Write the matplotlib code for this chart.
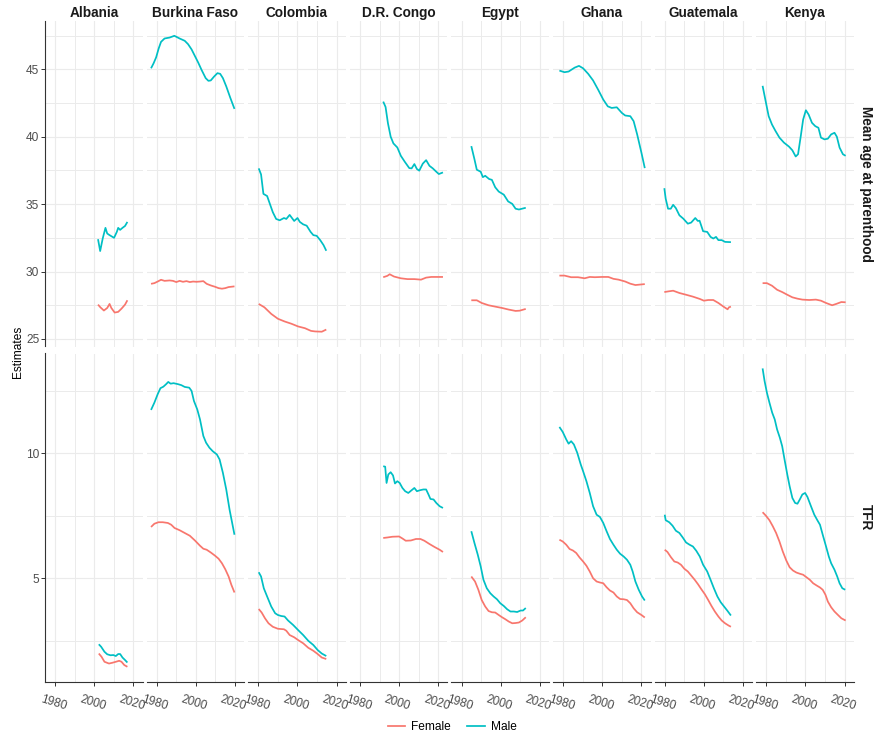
"""Faceted estimates: mean age at parenthood and TFR by country and sex."""

import matplotlib
matplotlib.use("Agg")
import matplotlib.pyplot as plt
from matplotlib.lines import Line2D
from matplotlib.ticker import FixedLocator

plt.rcParams["font.family"] = ["Liberation Sans", "DejaVu Sans"]

countries = ["Albania", "Burkina Faso", "Colombia", "D.R. Congo",
             "Egypt", "Ghana", "Guatemala", "Kenya"]
measures = ["Mean age at parenthood", "TFR"]
sexes = ["Female", "Male"]
colours = {"Female": "#F8766D", "Male": "#00BFC4"}

# ---- mean age at parenthood -------------------------------------------
albania_age_f_x = [2001.9, 2003.1, 2004.9, 2006.6, 2007.8, 2008.7, 2010.4, 2012.2, 2013.9, 2015.7, 2016.9]
albania_age_f_y = [27.55, 27.35, 27.11, 27.30, 27.60, 27.30, 26.96, 27.01, 27.25, 27.55, 27.87]
albania_age_m_x = [2001.9, 2003.0, 2004.3, 2005.7, 2006.6, 2007.8, 2010.1, 2011.5, 2012.2, 2013.2, 2014.4, 2015.7, 2016.9]
albania_age_m_y = [32.40, 31.52, 32.45, 33.24, 32.82, 32.70, 32.50, 32.94, 33.24, 33.09, 33.24, 33.38, 33.68]

burkina_age_f_x = [1977.1, 1978.8, 1980.5, 1982.2, 1984.0, 1986.6, 1988.3, 1990.0, 1991.7, 1993.4, 1995.2, 1996.9,
                   1998.6, 2000.3, 2002.1, 2003.8, 2005.5, 2007.6, 2009.8, 2011.6, 2013.3, 2015.0, 2016.7, 2019.7]
burkina_age_f_y = [29.09, 29.14, 29.26, 29.39, 29.31, 29.34, 29.31, 29.22, 29.31, 29.24, 29.29, 29.22,
                   29.26, 29.24, 29.26, 29.29, 29.09, 28.97, 28.87, 28.77, 28.73, 28.77, 28.85, 28.90]
burkina_age_m_x = [1977.1, 1978.4, 1979.7, 1981.0, 1982.2, 1984.0, 1986.6, 1989.0, 1991.7, 1994.3, 1996.0, 1997.8,
                   1999.5, 2001.2, 2002.9, 2005.0, 2006.4, 2007.6, 2009.3, 2011.0, 2012.4, 2013.8, 2015.5, 2017.6, 2019.7]
burkina_age_m_y = [45.07, 45.44, 45.88, 46.54, 47.03, 47.28, 47.35, 47.48, 47.28, 47.11, 46.86, 46.47,
                   45.98, 45.49, 44.95, 44.34, 44.14, 44.17, 44.46, 44.71, 44.66, 44.34, 43.73, 42.87, 42.06]

colombia_age_f_x = [1980.2, 1983.1, 1986.6, 1990.0, 1993.4, 1996.9, 2000.3, 2003.8, 2006.9, 2009.0, 2012.4, 2014.7]
colombia_age_f_y = [27.60, 27.35, 26.86, 26.50, 26.30, 26.13, 25.93, 25.80, 25.60, 25.56, 25.54, 25.70]
colombia_age_m_x = [1980.2, 1981.4, 1982.6, 1984.5, 1985.7, 1987.4, 1989.1, 1990.9, 1993.1, 1994.3, 1996.0,
                    1998.3, 2000.0, 2001.2, 2002.9, 2004.7, 2006.7, 2008.1, 2009.8, 2011.6, 2013.3, 2014.7]
colombia_age_m_y = [37.65, 37.20, 35.76, 35.60, 35.10, 34.40, 33.90, 33.80, 33.97, 33.90, 34.20,
                    33.75, 33.97, 33.68, 33.50, 33.40, 32.94, 32.70, 32.65, 32.33, 31.96, 31.54]

congo_age_f_x = [1991.9, 1994.0, 1995.2, 1997.4, 2000.9, 2004.3, 2007.8, 2011.2, 2013.8, 2016.4, 2022.4]
congo_age_f_y = [29.58, 29.68, 29.80, 29.63, 29.50, 29.44, 29.44, 29.40, 29.55, 29.60, 29.60]
congo_age_m_x = [1991.9, 1993.1, 1994.3, 1995.7, 1997.1, 1999.1, 2000.9, 2002.9, 2005.2, 2006.4, 2007.8,
                 2009.1, 2010.3, 2012.1, 2013.8, 2015.5, 2017.2, 2019.0, 2020.3, 2022.4]
congo_age_m_y = [42.60, 42.20, 41.00, 40.00, 39.50, 39.20, 38.58, 38.14, 37.67, 37.65, 37.97,
                 37.60, 37.48, 38.00, 38.26, 37.84, 37.65, 37.40, 37.23, 37.35]

egypt_age_f_x = [1985.0, 1987.8, 1990.3, 1993.8, 1997.2, 2000.7, 2004.1, 2007.6, 2009.7, 2012.8]
egypt_age_f_y = [27.87, 27.87, 27.67, 27.50, 27.40, 27.30, 27.18, 27.08, 27.10, 27.23]
egypt_age_m_x = [1985.0, 1986.6, 1987.8, 1989.8, 1990.9, 1992.1, 1994.1, 1995.5, 1997.2, 1999.0, 2001.6,
                 2003.8, 2005.9, 2007.6, 2009.3, 2012.8]
egypt_age_m_y = [39.30, 38.33, 37.55, 37.40, 37.00, 37.10, 36.86, 36.80, 36.25, 35.93, 35.70,
                 35.20, 35.02, 34.66, 34.60, 34.73]

ghana_age_f_x = [1978.1, 1980.7, 1984.1, 1987.6, 1991.0, 1993.6, 1996.2, 1999.7, 2003.1, 2005.7, 2008.3,
                 2011.7, 2014.3, 2016.9, 2021.7]
ghana_age_f_y = [29.70, 29.70, 29.58, 29.58, 29.50, 29.60, 29.58, 29.60, 29.60, 29.46, 29.40,
                 29.26, 29.10, 29.00, 29.07]
ghana_age_m_x = [1978.1, 1980.7, 1982.8, 1985.9, 1988.1, 1990.2, 1992.8, 1995.3, 1997.9, 2000.5, 2002.8,
                 2004.8, 2007.4, 2010.0, 2011.7, 2014.3, 2016.0, 2017.8, 2020.0, 2021.7]
ghana_age_m_y = [44.90, 44.78, 44.83, 45.12, 45.25, 45.07, 44.66, 44.17, 43.48, 42.75, 42.25,
                 42.13, 42.18, 41.76, 41.57, 41.52, 41.15, 40.17, 38.80, 37.67]

guatemala_age_f_x = [1979.8, 1981.9, 1984.3, 1987.5, 1990.9, 1994.4, 1997.9, 2000.0, 2002.2, 2004.8, 2007.4,
                     2010.0, 2012.1, 2012.8, 2013.8]
guatemala_age_f_y = [28.48, 28.53, 28.58, 28.41, 28.28, 28.14, 27.97, 27.84, 27.89, 27.89, 27.67,
                     27.40, 27.20, 27.35, 27.40]
guatemala_age_m_x = [1979.8, 1980.5, 1981.7, 1983.1, 1984.3, 1985.7, 1987.5, 1989.5, 1991.8, 1993.5, 1995.6,
                     1996.9, 1997.8, 1999.6, 2001.7, 2003.4, 2004.8, 2006.2, 2007.4, 2009.1, 2010.8, 2013.8]
guatemala_age_m_y = [36.18, 35.40, 34.66, 34.66, 34.95, 34.70, 34.17, 33.92, 33.55, 33.63, 33.97,
                     33.75, 33.77, 32.99, 32.94, 32.57, 32.45, 32.57, 32.33, 32.33, 32.20, 32.18]

kenya_age_f_x = [1978.1, 1980.3, 1982.9, 1985.5, 1988.1, 1990.7, 1993.3, 1995.9, 1998.4, 2001.9, 2005.3,
                 2007.9, 2010.5, 2013.6, 2015.7, 2018.3, 2020.5]
kenya_age_f_y = [29.14, 29.14, 28.95, 28.65, 28.48, 28.28, 28.09, 27.99, 27.92, 27.89, 27.92,
                 27.84, 27.67, 27.50, 27.60, 27.74, 27.72]
kenya_age_m_x = [1978.1, 1979.5, 1981.2, 1982.9, 1984.7, 1986.7, 1989.0, 1991.6, 1993.3, 1995.0, 1996.2,
                 1997.6, 1998.8, 2000.2, 2001.6, 2003.3, 2005.0, 2006.6, 2007.9, 2009.7, 2011.4, 2013.1,
                 2014.8, 2016.0, 2017.4, 2019.1, 2020.5]
kenya_age_m_y = [43.77, 42.75, 41.52, 40.90, 40.42, 39.93, 39.56, 39.26, 38.99, 38.53, 38.70,
                 40.05, 41.27, 41.96, 41.64, 41.03, 40.78, 40.66, 39.93, 39.80, 39.85, 40.17,
                 40.29, 40.00, 39.19, 38.70, 38.58]

# ---- total fertility rate ----------------------------------------------
albania_tfr_f_x = [2002.3, 2003.7, 2005.2, 2007.5, 2009.2, 2011.0, 2012.7, 2013.9, 2015.3, 2016.9]
albania_tfr_f_y = [2.00, 1.87, 1.67, 1.60, 1.63, 1.67, 1.71, 1.67, 1.54, 1.47]
albania_tfr_m_x = [2002.3, 2003.5, 2005.2, 2006.6, 2008.3, 2009.7, 2011.0, 2012.2, 2013.2, 2014.4, 2015.7, 2016.9]
albania_tfr_m_y = [2.37, 2.27, 2.07, 1.97, 1.93, 1.94, 1.90, 1.98, 1.98, 1.84, 1.74, 1.64]

burkina_tfr_f_x = [1977.1, 1978.8, 1980.9, 1983.1, 1985.7, 1987.4, 1989.1, 1991.7, 1994.3, 1996.9, 1999.5,
                   2002.1, 2003.8, 2005.5, 2007.6, 2009.8, 2011.6, 2013.3, 2015.0, 2016.7, 2018.1, 2019.7]
burkina_tfr_f_y = [7.06, 7.19, 7.25, 7.25, 7.22, 7.15, 7.02, 6.93, 6.82, 6.71, 6.52,
                   6.31, 6.19, 6.15, 6.04, 5.91, 5.79, 5.61, 5.37, 5.08, 4.75, 4.44]
burkina_tfr_m_x = [1977.1, 1978.8, 1980.5, 1981.9, 1983.4, 1984.8, 1985.9, 1987.1, 1988.6, 1990.9, 1992.6,
                   1994.3, 1996.6, 1997.8, 1999.0, 2000.7, 2002.1, 2003.8, 2005.2, 2006.9, 2008.6, 2010.7,
                   2012.1, 2013.8, 2015.5, 2017.2, 2019.7]
burkina_tfr_m_y = [11.74, 12.03, 12.37, 12.61, 12.67, 12.77, 12.86, 12.79, 12.81, 12.77, 12.73,
                   12.66, 12.63, 12.50, 12.10, 11.76, 11.36, 10.70, 10.43, 10.23, 10.09, 9.96,
                   9.76, 9.22, 8.56, 7.75, 6.75]

colombia_tfr_f_x = [1980.2, 1981.7, 1983.4, 1985.2, 1987.4, 1990.0, 1993.1, 1994.3, 1996.0, 1998.3, 2000.3,
                    2002.9, 2005.5, 2008.1, 2010.3, 2012.4, 2014.7]
colombia_tfr_f_y = [3.78, 3.64, 3.41, 3.21, 3.07, 2.99, 2.97, 2.91, 2.74, 2.65, 2.54,
                    2.41, 2.23, 2.11, 1.98, 1.84, 1.78]
colombia_tfr_m_x = [1980.2, 1981.4, 1982.8, 1984.5, 1986.6, 1988.6, 1990.0, 1991.7, 1993.4, 1995.2, 1997.8,
                    2000.3, 2002.9, 2005.5, 2008.1, 2010.3, 2012.4, 2014.7]
colombia_tfr_m_y = [5.25, 5.08, 4.61, 4.28, 3.88, 3.61, 3.54, 3.50, 3.48, 3.32, 3.14,
                    2.94, 2.74, 2.51, 2.34, 2.14, 2.00, 1.90]

congo_tfr_f_x = [1991.9, 1994.0, 1996.6, 2000.0, 2001.7, 2003.4, 2006.0, 2008.6, 2010.9, 2012.9, 2015.5,
                 2018.1, 2020.7, 2022.4]
congo_tfr_f_y = [6.62, 6.64, 6.67, 6.68, 6.60, 6.51, 6.52, 6.58, 6.58, 6.51, 6.38,
                 6.26, 6.15, 6.06]
congo_tfr_m_x = [1991.9, 1992.9, 1993.6, 1994.5, 1995.7, 1996.9, 1997.9, 1999.1, 2000.3, 2001.7, 2003.1,
                 2004.7, 2006.4, 2007.8, 2009.1, 2010.7, 2012.4, 2013.8, 2015.0, 2016.0, 2017.6, 2019.0,
                 2020.7, 2022.4]
congo_tfr_m_y = [9.49, 9.47, 8.82, 9.16, 9.25, 9.12, 8.80, 8.89, 8.82, 8.62, 8.49,
                 8.42, 8.53, 8.62, 8.49, 8.53, 8.56, 8.56, 8.36, 8.18, 8.16, 8.02,
                 7.89, 7.82]

egypt_tfr_f_x = [1985.0, 1986.9, 1988.6, 1990.3, 1992.1, 1993.8, 1995.5, 1997.2, 1999.0, 2000.7, 2002.4,
                 2004.1, 2005.9, 2007.6, 2009.3, 2011.0, 2012.8]
egypt_tfr_f_y = [5.08, 4.88, 4.55, 4.14, 3.88, 3.70, 3.65, 3.64, 3.54, 3.45, 3.37,
                 3.28, 3.21, 3.22, 3.24, 3.32, 3.45]
egypt_tfr_m_x = [1985.0, 1986.6, 1988.3, 1989.8, 1991.2, 1992.9, 1994.7, 1996.4, 1998.1, 1999.8, 2001.6,
                 2003.3, 2005.0, 2006.7, 2008.4, 2010.2, 2011.4, 2012.8]
egypt_tfr_m_y = [6.89, 6.42, 5.95, 5.48, 4.95, 4.61, 4.41, 4.28, 4.17, 4.01, 3.90,
                 3.77, 3.68, 3.68, 3.66, 3.72, 3.72, 3.82]

ghana_tfr_f_x = [1978.1, 1979.8, 1981.6, 1983.3, 1985.0, 1986.7, 1988.4, 1990.2, 1991.9, 1993.6, 1995.3,
                 1997.1, 1998.8, 2000.5, 2002.2, 2003.9, 2005.7, 2007.4, 2009.1, 2010.9, 2012.6,
                 2014.3, 2016.0, 2017.8, 2020.0, 2021.7]
ghana_tfr_f_y = [6.55, 6.48, 6.35, 6.18, 6.12, 6.02, 5.84, 5.68, 5.51, 5.28, 5.01,
                 4.88, 4.84, 4.81, 4.65, 4.52, 4.44, 4.28, 4.18, 4.17, 4.14,
                 4.01, 3.81, 3.65, 3.54, 3.44]
ghana_tfr_m_x = [1978.1, 1979.8, 1981.6, 1982.8, 1984.1, 1985.5, 1987.2, 1989.0, 1990.2, 1991.9, 1993.6,
                 1995.3, 1997.1, 1998.8, 2000.5, 2002.2, 2003.9, 2005.7, 2007.4, 2009.1, 2010.9,
                 2012.6, 2014.3, 2015.5, 2016.9, 2018.6, 2020.3, 2021.7]
ghana_tfr_m_y = [11.06, 10.86, 10.56, 10.39, 10.49, 10.36, 10.03, 9.56, 9.29, 8.89, 8.42,
                 7.89, 7.55, 7.46, 7.22, 6.89, 6.58, 6.35, 6.15, 5.99, 5.88,
                 5.75, 5.55, 5.28, 4.88, 4.55, 4.28, 4.12]

guatemala_tfr_f_x = [1980.0, 1981.4, 1983.1, 1984.9, 1986.6, 1988.3, 1990.0, 1991.8, 1993.5, 1995.3, 1997.0,
                     1998.7, 2000.5, 2002.2, 2003.9, 2005.6, 2007.4, 2009.1, 2010.8, 2012.6, 2013.8]
guatemala_tfr_f_y = [6.15, 6.06, 5.86, 5.68, 5.64, 5.55, 5.39, 5.28, 5.12, 4.95, 4.77,
                     4.57, 4.37, 4.14, 3.90, 3.68, 3.48, 3.32, 3.21, 3.12, 3.07]
guatemala_tfr_m_x = [1980.0, 1980.5, 1982.3, 1984.0, 1985.7, 1987.5, 1989.2, 1990.9, 1992.7, 1994.4, 1996.1,
                     1997.9, 1999.6, 2001.7, 2003.4, 2005.1, 2006.9, 2008.6, 2010.3, 2012.1, 2013.8]
guatemala_tfr_m_y = [7.55, 7.33, 7.25, 7.11, 6.91, 6.82, 6.64, 6.44, 6.35, 6.28, 6.11,
                     5.88, 5.55, 5.28, 4.95, 4.61, 4.28, 4.05, 3.88, 3.70, 3.52]

kenya_tfr_f_x = [1978.1, 1979.8, 1981.6, 1983.3, 1985.0, 1986.7, 1988.4, 1990.2, 1991.9, 1993.6, 1995.3,
                 1997.1, 1998.8, 2000.5, 2002.2, 2003.9, 2005.7, 2007.4, 2008.8, 2010.2, 2011.4,
                 2013.1, 2014.8, 2016.6, 2018.3, 2020.5]
kenya_tfr_f_y = [7.65, 7.51, 7.33, 7.09, 6.82, 6.48, 6.08, 5.72, 5.45, 5.32, 5.24,
                 5.19, 5.15, 5.05, 4.95, 4.81, 4.72, 4.64, 4.55, 4.35, 4.08,
                 3.85, 3.68, 3.54, 3.41, 3.32]
kenya_tfr_m_x = [1978.1, 1979.1, 1980.3, 1981.6, 1983.0, 1984.3, 1985.5, 1986.9, 1988.1, 1989.3, 1990.7,
                 1991.9, 1993.3, 1994.7, 1995.9, 1997.1, 1998.4, 1999.8, 2001.0, 2002.8, 2004.5,
                 2006.2, 2007.4, 2008.8, 2010.5, 2011.9, 2013.1, 2014.8, 2016.2, 2017.4, 2018.8, 2020.3]
kenya_tfr_m_y = [13.40, 12.90, 12.43, 12.03, 11.63, 11.36, 10.96, 10.63, 10.29, 9.76, 9.16,
                 8.69, 8.22, 8.02, 7.99, 8.16, 8.36, 8.42, 8.26, 7.89, 7.55,
                 7.31, 7.15, 6.75, 6.28, 5.88, 5.61, 5.35, 5.08, 4.81, 4.61, 4.55]

# lookup table built from the lists above: (country, measure) -> {sex: (x, y)}
_prefix = ["albania", "burkina", "colombia", "congo", "egypt", "ghana", "guatemala", "kenya"]
_g = globals()
series = {}
for country, p in zip(countries, _prefix):
    for measure, m in zip(measures, ["age", "tfr"]):
        series[(country, measure)] = {
            "Female": (_g[f"{p}_{m}_f_x"], _g[f"{p}_{m}_f_y"]),
            "Male": (_g[f"{p}_{m}_m_x"], _g[f"{p}_{m}_m_y"]),
        }


def _expanded(values, mult=0.05):
    lo, hi = min(values), max(values)
    pad = (hi - lo) * mult
    return lo - pad, hi + pad


all_x = [v for d in series.values() for xy in d.values() for v in xy[0]]
xlim = _expanded(all_x)
ylims = {}
for measure in measures:
    vals = [v for c in countries for xy in series[(c, measure)].values() for v in xy[1]]
    ylims[measure] = _expanded(vals)

y_major = {"Mean age at parenthood": [25, 30, 35, 40, 45], "TFR": [5, 10]}
y_minor = {"Mean age at parenthood": [27.5, 32.5, 37.5, 42.5, 47.5], "TFR": [2.5, 7.5, 12.5]}

W, H = 875, 736
fig = plt.figure(figsize=(W / 100, H / 100), dpi=100)

left0, pitch, pw = 45.0, 101.6, 97.6
rows = [(21.0, 346.5), (353.5, 681.7)]
grid_c = "#EBEBEB"
axis_c = "#333333"

for r, measure in enumerate(measures):
    top, bot = rows[r]
    for c, country in enumerate(countries):
        x0 = left0 + c * pitch
        ax = fig.add_axes([x0 / W, 1 - bot / H, pw / W, (bot - top) / H])
        for sex in sexes:
            xs, ys = series[(country, measure)][sex]
            ax.plot(xs, ys, color=colours[sex], lw=1.25, solid_capstyle="butt")
        ax.set_xlim(*xlim)
        ax.set_ylim(*ylims[measure])
        ax.xaxis.set_major_locator(FixedLocator([1980, 2000, 2020]))
        ax.xaxis.set_minor_locator(FixedLocator([1990, 2010]))
        ax.yaxis.set_major_locator(FixedLocator(y_major[measure]))
        ax.yaxis.set_minor_locator(FixedLocator(y_minor[measure]))
        ax.grid(which="major", color=grid_c, lw=0.85)
        ax.grid(which="minor", color=grid_c, lw=0.7)
        ax.set_axisbelow(True)
        ax.set_facecolor("white")
        for s in ("top", "right"):
            ax.spines[s].set_visible(False)
        for s in ("left", "bottom"):
            ax.spines[s].set_color(axis_c)
            ax.spines[s].set_linewidth(0.8)
        ax.tick_params(which="minor", length=0)
        ax.tick_params(which="major", color=axis_c, length=2.6, width=0.7,
                       labelsize=8.6, labelcolor="#4D4D4D", pad=1.5)
        if c != 0:
            ax.spines["left"].set_visible(False)
            ax.tick_params(axis="y", left=False, labelleft=False)
        if r == 0:
            ax.spines["bottom"].set_visible(False)
            ax.tick_params(axis="x", bottom=False, labelbottom=False)
            fig.text((x0 + pw / 2) / W, 1 - 16.7 / H, country, ha="center",
                     va="baseline", fontsize=9.8, fontweight="bold", color="#1A1A1A")
        else:
            ax.set_xticks([1980, 2000, 2020])
            ax.set_xticklabels(["1980", "2000", "2020"], rotation=-17,
                               ha="center", va="top", rotation_mode="anchor")
            ax.tick_params(axis="x", pad=8.5)
    fig.text(866 / W, 1 - (top + bot) / 2 / H, measure, rotation=-90, ha="center",
             va="center", fontsize=9.8, fontweight="bold", color="#1A1A1A")

fig.text(18 / W, 1 - 352 / H, "Estimates", rotation=90, ha="center", va="center",
         fontsize=8.6, color="black")

handles = [Line2D([], [], color=colours[s], lw=1.25) for s in sexes]
fig.legend(handles, sexes, loc="center", bbox_to_anchor=(452 / W, 1 - 727.5 / H),
           ncol=2, frameon=False, fontsize=8.6, handlelength=1.5,
           handletextpad=0.5, columnspacing=1.3)

fig.savefig("out.png", dpi=100, facecolor="white")
